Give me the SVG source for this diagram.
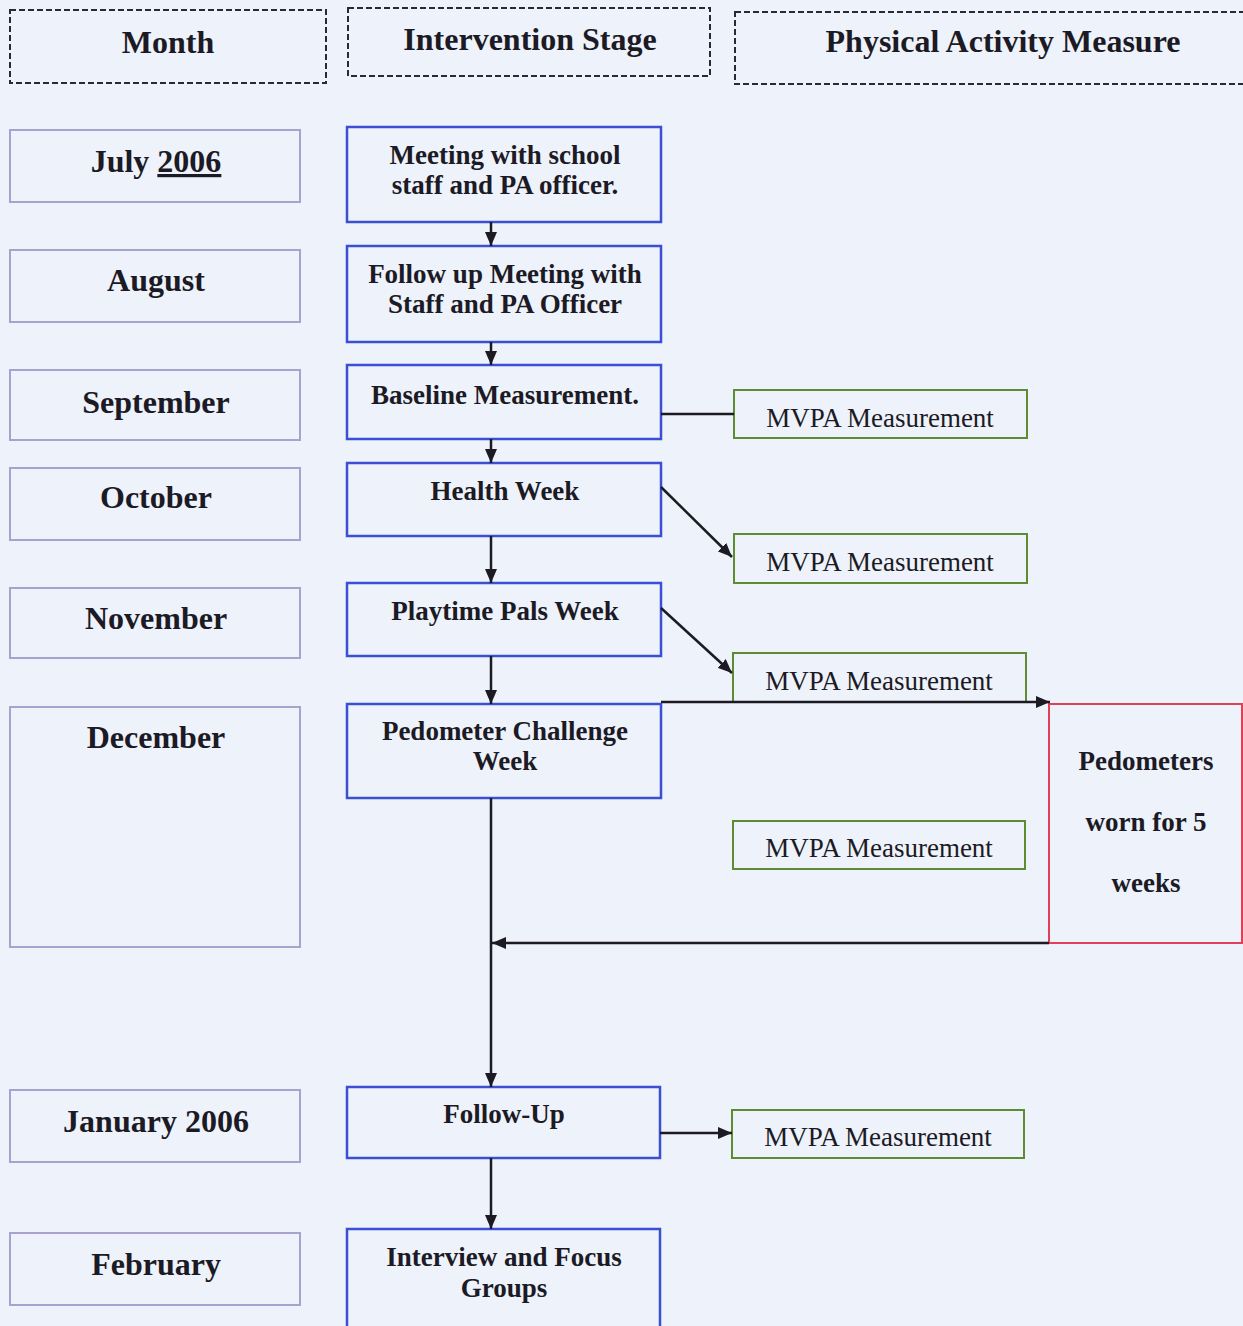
<svg xmlns="http://www.w3.org/2000/svg" width="1243" height="1326" viewBox="0 0 1243 1326">
<defs>
<style>
.bg{fill:#edf2fb}
.hdr{fill:none;stroke:#2a2a35;stroke-width:2;stroke-dasharray:6 3}
.mon{fill:none;stroke:#a9a2cf;stroke-width:2}
.stg{fill:none;stroke:#3b4fd2;stroke-width:2.5}
.mv{fill:none;stroke:#5e8c30;stroke-width:2}
.red{fill:none;stroke:#e0405a;stroke-width:2}
text{font-family:"Liberation Serif","Times New Roman",serif;fill:#1c1a24;text-anchor:middle}
.h{font-size:32px;font-weight:bold}
.m{font-size:32px;font-weight:bold}
.s{font-size:27px;font-weight:bold}
.r{font-size:27px}
.c{fill:none;stroke:#1c1a22;stroke-width:2.5}
</style>
<marker id="ah" viewBox="0 0 14 12" refX="14" refY="6" markerWidth="14" markerHeight="12" markerUnits="userSpaceOnUse" orient="auto">
<path d="M0,0 L14,6 L0,12 z" fill="#1c1a22"/>
</marker>
</defs>
<rect class="bg" x="0" y="0" width="1243" height="1326"/>

<g id="header-month"><rect class="hdr" x="10" y="10" width="316" height="73"/><text class="h" x="168" y="53">Month</text></g>
<g id="header-stage"><rect class="hdr" x="348" y="8" width="362" height="68"/><text class="h" x="530" y="50">Intervention Stage</text></g>
<g id="header-measure"><rect class="hdr" x="735" y="12" width="520" height="72"/><text class="h" x="1003" y="52">Physical Activity Measure</text></g>

<g id="month-july"><rect class="mon" x="10" y="130" width="290" height="72"/><text class="m" x="156" y="172">July <tspan text-decoration="underline">2006</tspan></text></g>
<g id="month-august"><rect class="mon" x="10" y="250" width="290" height="72"/><text class="m" x="156" y="291">August</text></g>
<g id="month-september"><rect class="mon" x="10" y="370" width="290" height="70"/><text class="m" x="156" y="413">September</text></g>
<g id="month-october"><rect class="mon" x="10" y="468" width="290" height="72"/><text class="m" x="156" y="508">October</text></g>
<g id="month-november"><rect class="mon" x="10" y="588" width="290" height="70"/><text class="m" x="156" y="629">November</text></g>
<g id="month-december"><rect class="mon" x="10" y="707" width="290" height="240"/><text class="m" x="156" y="748">December</text></g>
<g id="month-january"><rect class="mon" x="10" y="1090" width="290" height="72"/><text class="m" x="156" y="1132">January 2006</text></g>
<g id="month-february"><rect class="mon" x="10" y="1233" width="290" height="72"/><text class="m" x="156" y="1275">February</text></g>

<g id="stage-meeting"><rect class="stg" x="347" y="127" width="314" height="95"/><text class="s" x="505" y="164">Meeting with school</text><text class="s" x="505" y="194">staff and PA officer.</text></g>
<g id="stage-followup-meeting"><rect class="stg" x="347" y="246" width="314" height="96"/><text class="s" x="505" y="283">Follow up Meeting with</text><text class="s" x="505" y="313">Staff and PA Officer</text></g>
<g id="stage-baseline"><rect class="stg" x="347" y="365" width="314" height="74"/><text class="s" x="505" y="404">Baseline Measurement.</text></g>
<g id="stage-health"><rect class="stg" x="347" y="463" width="314" height="73"/><text class="s" x="505" y="500">Health Week</text></g>
<g id="stage-playtime"><rect class="stg" x="347" y="583" width="314" height="73"/><text class="s" x="505" y="620">Playtime Pals Week</text></g>
<g id="stage-pedometer"><rect class="stg" x="347" y="704" width="314" height="94"/><text class="s" x="505" y="740">Pedometer Challenge</text><text class="s" x="505" y="770">Week</text></g>
<g id="stage-followup"><rect class="stg" x="347" y="1087" width="313" height="71"/><text class="s" x="504" y="1123">Follow-Up</text></g>
<g id="stage-interview"><rect class="stg" x="347" y="1229" width="313" height="110"/><text class="s" x="504" y="1266">Interview and Focus</text><text class="s" x="504" y="1297">Groups</text></g>

<g id="mvpa-1"><rect class="mv" x="734" y="390" width="293" height="48"/><text class="r" x="880" y="427">MVPA Measurement</text></g>
<g id="mvpa-2"><rect class="mv" x="734" y="534" width="293" height="49"/><text class="r" x="880" y="571">MVPA Measurement</text></g>
<g id="mvpa-3"><rect class="mv" x="733" y="653" width="293" height="49"/><text class="r" x="879" y="690">MVPA Measurement</text></g>
<g id="mvpa-4"><rect class="mv" x="733" y="821" width="292" height="48"/><text class="r" x="879" y="857">MVPA Measurement</text></g>
<g id="mvpa-5"><rect class="mv" x="732" y="1110" width="292" height="48"/><text class="r" x="878" y="1146">MVPA Measurement</text></g>

<g id="pedometers"><rect class="red" x="1049" y="704" width="193" height="239"/><text class="s" x="1146" y="770">Pedometers</text><text class="s" x="1146" y="831">worn for 5</text><text class="s" x="1146" y="892">weeks</text></g>

<g id="connectors">
<line class="c" x1="491" y1="222" x2="491" y2="246" marker-end="url(#ah)"/>
<line class="c" x1="491" y1="342" x2="491" y2="365" marker-end="url(#ah)"/>
<line class="c" x1="491" y1="439" x2="491" y2="463" marker-end="url(#ah)"/>
<line class="c" x1="491" y1="536" x2="491" y2="583" marker-end="url(#ah)"/>
<line class="c" x1="491" y1="656" x2="491" y2="704" marker-end="url(#ah)"/>
<line class="c" x1="491" y1="798" x2="491" y2="1087" marker-end="url(#ah)"/>
<line class="c" x1="491" y1="1158" x2="491" y2="1229" marker-end="url(#ah)"/>
<line class="c" x1="661" y1="414" x2="734" y2="414"/>
<line class="c" x1="661" y1="487" x2="732" y2="557" marker-end="url(#ah)"/>
<line class="c" x1="661" y1="608" x2="732" y2="673" marker-end="url(#ah)"/>
<line class="c" x1="661" y1="702" x2="1050" y2="702" marker-end="url(#ah)"/>
<line class="c" x1="1049" y1="943" x2="492" y2="943" marker-end="url(#ah)"/>
<line class="c" x1="660" y1="1133" x2="732" y2="1133" marker-end="url(#ah)"/>
</g>
</svg>
